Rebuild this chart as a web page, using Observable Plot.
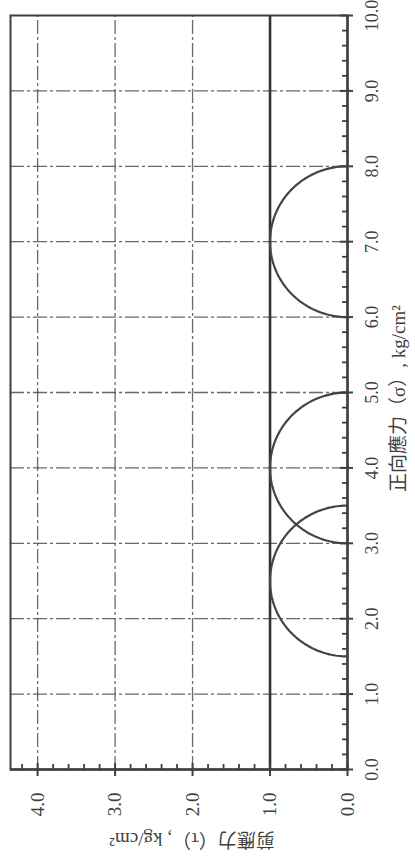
<!DOCTYPE html>
<html>
<head>
<meta charset="utf-8">
<script src="https://cdn.jsdelivr.net/npm/d3@7"></script>
<script src="https://cdn.jsdelivr.net/npm/@observablehq/plot@0.6"></script>
<style>
  html, body { margin: 0; padding: 0; background: #fff; overflow: hidden; }
  #page { position: relative; width: 415px; height: 861px; overflow: hidden; background: #fff; }
  /* the chart is laid out landscape, then turned a quarter turn counter-clockwise */
  #turn { position: absolute; left: 0; top: 0; width: 861px; height: 415px;
          transform-origin: 0 0; transform: translate(0px, 861px) rotate(-90deg); }
  #turn svg { max-width: none; display: block; }
</style>
</head>
<body>
<div id="page"><div id="turn"></div></div>
<script>
// Mohr circles at failure and the φ = 0 envelope τ = c
const sigmaTicks = [0, 1, 2, 3, 4, 5, 6, 7, 8, 9, 10];   // normal stress, kg/cm²
const tauTicks = [0, 1, 2, 3, 4];                          // shear stress, kg/cm²
const sigma3 = [1.5, 3.0, 6.0];                            // minor principal stress of each test
const sigma1 = [3.5, 5.0, 8.0];                            // major principal stress of each test
const cohesion = [1.0];                                    // envelope, kg/cm²
const sigmaTitle = "正向應力（σ）, kg/cm²";
const tauTitle = "剪應力（τ）, kg/cm²";

const W = 861, H = 415;
const mL = 91, mR = 16, mT = 10, mB = 68;
const innerW = W - mL - mR, innerH = H - mT - mB;

// minor ticks every 0.2
const sigmaMinor = d3.range(1, 50).map(i => i / 5).filter(v => !sigmaTicks.includes(v));
const tauMinor = d3.range(1, 22).map(i => i / 5).filter(v => !tauTicks.includes(v));

// upper half of each Mohr circle, from σ3 to σ1
const circles = sigma3.flatMap((s3, k) => {
  const c = (s3 + sigma1[k]) / 2, r = (sigma1[k] - s3) / 2;
  return d3.range(0, 121).map(j => {
    const t = Math.PI * j / 120;
    return {k, sigma: c - r * Math.cos(t), tau: r * Math.sin(t)};
  });
});

const ink = "#3f3f3f";
const grid = {stroke: "#4d4d4d", strokeOpacity: 0.85, strokeWidth: 1.3, strokeDasharray: "14,3,3,3"};
const font = "'Liberation Serif', 'Noto Sans CJK TC', serif";

const chart = Plot.plot({
  width: W,
  height: H,
  marginLeft: mL,
  marginRight: mR,
  marginTop: mT,
  marginBottom: mB,
  style: {background: "#fff", fontFamily: font, fontSize: "19px", color: ink, maxWidth: "none"},
  x: {domain: [0, 10], axis: null},
  y: {domain: [0, 4.35], axis: null},
  marks: [
    Plot.gridX(sigmaTicks.slice(1, -1), grid),
    Plot.gridY(tauTicks.slice(1), grid),
    Plot.frame({stroke: ink, strokeWidth: 2}),
    Plot.ruleY(cohesion, {stroke: "#333", strokeWidth: 2.6}),
    Plot.line(circles, {x: "sigma", y: "tau", z: "k", stroke: "#444", strokeWidth: 2.2}),
    // axis lines
    Plot.ruleY([0], {stroke: ink, strokeWidth: 2.4}),
    Plot.ruleX([0], {stroke: ink, strokeWidth: 2.4}),
    // ticks: minor ones point inward, major ones cross the axis
    Plot.ruleX(sigmaMinor, {insetTop: innerH - 5, stroke: ink, strokeWidth: 1.8}),
    Plot.ruleX(sigmaTicks, {insetTop: innerH - 7, insetBottom: -6, stroke: ink, strokeWidth: 2}),
    Plot.ruleY(tauMinor, {insetRight: innerW - 6, stroke: ink, strokeWidth: 1.8}),
    Plot.ruleY(tauTicks, {insetRight: innerW - 7, insetLeft: -6, stroke: ink, strokeWidth: 2}),
    // tick labels
    Plot.text(sigmaTicks, {x: d => d, frameAnchor: "bottom", textAnchor: "middle", lineAnchor: "top", dy: 18,
      text: d => d.toFixed(1), fill: ink, fontSize: 18}),
    Plot.text(tauTicks, {y: d => d, frameAnchor: "left", textAnchor: "end", dx: -23,
      text: d => d.toFixed(1), fill: ink, fontSize: 19}),
    // axis titles
    Plot.text([sigmaTitle], {frameAnchor: "bottom", textAnchor: "middle", lineAnchor: "top", dy: 44, dx: -6,
      fill: ink, fontSize: 19}),
    Plot.text([tauTitle], {frameAnchor: "left", textAnchor: "middle", rotate: -90, dx: -70, dy: 13,
      fill: ink, fontSize: 19})
  ]
});

document.getElementById("turn").appendChild(chart);
</script>
</body>
</html>
